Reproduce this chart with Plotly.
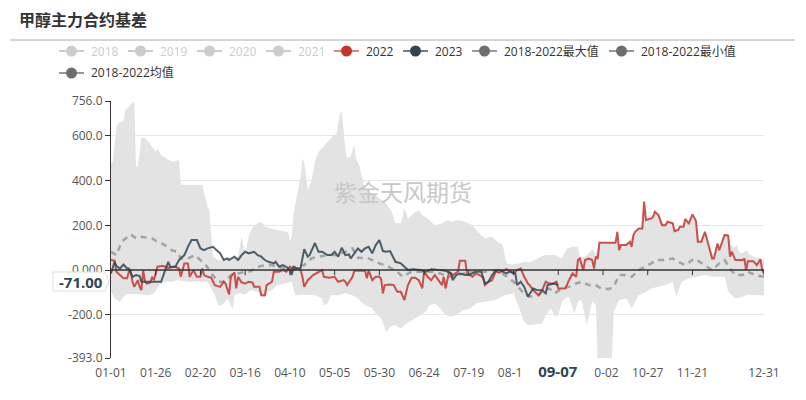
import plotly.graph_objects as go

# ---------------- data (day index 0..365 of a leap-year calendar) ----------------
tick_days = [0, 25, 50, 75, 100, 125, 150, 175, 200, 225, 250, 275, 300, 325, 365]
tick_text = ["01-01", "01-26", "02-20", "03-16", "04-10", "05-05", "05-30", "06-24",
             "07-19", "08-13", "09-07", "10-02", "10-27", "11-21", "12-31"]
y_ticks = [-393, -200, 0, 200, 400, 600, 756]
y_ticktext = ["-393.0", "-200.0", "0.000", "200.0", "400.0", "600.0", "756.0"]

max_day = [0, 1, 3, 4, 7, 8, 10, 12, 13, 14, 15, 17, 19, 21, 23, 25, 26, 28, 30, 32, 35, 38, 39, 51, 53,
           54, 55, 56, 57, 60, 64, 68, 71, 73, 75, 77, 79, 82, 84, 86, 88, 92, 96, 99, 100, 101, 102, 104,
           106, 107, 108, 110, 112, 114, 116, 118, 121, 124, 126, 128, 129, 130, 131, 132, 134, 135, 136,
           137, 139, 141, 144, 148, 150, 153, 157, 159, 162, 164, 166, 169, 172, 174, 177, 181, 185, 188,
           190, 194, 198, 202, 205, 209, 213, 216, 219, 221, 224, 228, 231, 234, 237, 240, 243, 248, 252,
           255, 258, 261, 262, 265, 268, 269, 271, 273, 282, 283, 284, 288, 290, 292, 293, 295, 297, 298,
           299, 302, 303, 304, 306, 308, 310, 311, 314, 315, 317, 318, 320, 321, 323, 325, 327, 329, 330,
           332, 334, 336, 337, 339, 340, 342, 343, 345, 346, 348, 350, 351, 353, 355, 357, 359, 361, 364, 365]
max_val = [475, 485, 640, 657, 665, 716, 730, 750, 756, 462, 465, 589, 592, 574, 552, 529, 544, 514, 507, 492,
           485, 492, 382, 380, 313, 283, 268, 165, 60, 45, 40, 55, 60, 150, 70, 150, 190, 209, 216, 195, 190,
           180, 175, 170, 130, 150, 250, 330, 420, 500, 480, 358, 395, 485, 529, 545, 575, 600, 610, 700, 708,
           634, 537, 500, 507, 537, 559, 500, 462, 388, 350, 335, 320, 306, 261, 209, 209, 276, 231, 253, 268,
           246, 231, 201, 209, 224, 216, 224, 216, 201, 171, 142, 149, 127, 112, 30, 25, 30, 37, 35, 45, 60,
           67, 67, 52, 97, 104, 104, 60, 60, 82, 97, 70, 124, 124, 171, 115, 115, 127, 157, 171, 186, 190,
           306, 224, 231, 238, 261, 246, 215, 205, 216, 209, 180, 180, 194, 194, 228, 209, 249, 219, 130, 127,
           171, 115, 75, 70, 119, 95, 142, 157, 164, 120, 100, 110, 80, 75, 90, 70, 60, 55, 50, 40]

min_day = [0, 2, 5, 7, 9, 13, 17, 21, 24, 27, 30, 34, 37, 43, 47, 51, 54, 56, 58, 60, 62, 63, 65, 67, 68,
           69, 72, 75, 78, 82, 84, 86, 88, 90, 93, 97, 101, 103, 106, 110, 114, 118, 119, 121, 123, 127, 131,
           135, 138, 142, 146, 148, 151, 154, 156, 159, 162, 164, 167, 170, 173, 176, 178, 181, 184, 187, 190,
           193, 197, 201, 204, 209, 215, 220, 225, 229, 231, 233, 237, 241, 243, 246, 248, 250, 252, 254, 256,
           259, 261, 263, 266, 269, 271, 272, 280, 281, 284, 288, 291, 295, 299, 302, 306, 310, 314, 316, 319,
           323, 327, 332, 336, 343, 345, 349, 353, 356, 360, 365]
min_val = [-97, -127, -142, -119, -109, -107, -109, -112, -105, -67, -52, -52, -45, -52, -52, -52, -52, -82,
           -112, -157, -157, -149, -127, -157, -179, -112, -104, -109, -89, -97, -120, -120, -95, -89, -67,
           -60, -52, -112, -109, -109, -112, -127, -157, -150, -112, -112, -104, -112, -127, -157, -171, -194,
           -216, -276, -253, -246, -261, -246, -231, -216, -201, -186, -157, -149, -171, -201, -209, -201,
           -179, -171, -149, -142, -134, -112, -104, -186, -231, -246, -243, -239, -201, -171, -209, -201,
           -142, -127, -119, -194, -142, -134, -246, -142, -157, -393, -393, -186, -134, -127, -171, -112,
           -97, -82, -75, -67, -52, -119, -52, -37, -30, -22, -30, -30, -97, -127, -119, -109, -112, -112]

mean_day = [0, 3, 6, 9, 11, 14, 17, 20, 23, 26, 30, 34, 37, 39, 43, 47, 51, 53, 56, 60, 64, 67, 71, 75, 78,
            82, 86, 90, 93, 97, 101, 105, 108, 112, 116, 121, 127, 135, 138, 144, 150, 155, 160, 163, 168,
            174, 179, 184, 189, 193, 198, 203, 209, 215, 220, 225, 230, 234, 239, 241, 245, 248, 252, 256,
            260, 263, 267, 271, 274, 278, 281, 284, 288, 291, 295, 299, 302, 305, 309, 314, 317, 321, 326,
            329, 332, 336, 340, 343, 346, 349, 353, 356, 360, 365]
mean_val = [82, 67, 127, 149, 160, 142, 149, 145, 142, 127, 112, 89, 82, 52, 52, 67, 37, 22, -15, -52, -52,
            -22, -15, -7, -5, 15, 22, 22, 15, 7, 7, 22, 22, 52, 60, 67, 67, 97, 55, 52, 30, 15, -7, -30, -7,
            -7, -7, -15, -30, -22, -15, -7, -7, 0, -22, -52, -97, -119, -112, -97, -82, -104, -82, -75, -60,
            -52, -67, -67, -82, -85, -75, -22, -22, -30, 0, 15, 30, 45, 45, 52, 37, 22, 52, 37, 22, 0, 30, 45,
            7, -22, -22, -7, -22, -30]

y2022_day = [0, 2, 3, 5, 7, 9, 10, 11, 12, 13, 15, 16, 17, 18, 19, 20, 22, 23, 24, 26, 29, 32, 36, 38, 39,
             41, 43, 44, 46, 48, 50, 51, 52, 54, 56, 58, 61, 63, 64, 66, 67, 69, 70, 71, 73, 75, 77, 79, 80,
             83, 84, 86, 87, 90, 91, 94, 96, 98, 100, 102, 104, 106, 107, 108, 110, 113, 116, 118, 119, 122,
             125, 127, 130, 131, 132, 134, 135, 136, 139, 142, 143, 144, 146, 148, 150, 151, 152, 153, 156,
             158, 160, 162, 164, 166, 168, 170, 172, 174, 175, 177, 179, 181, 183, 185, 186, 187, 189, 191,
             194, 195, 198, 199, 202, 204, 206, 208, 209, 211, 213, 215, 217, 218, 221, 223, 225, 227, 229,
             231, 233, 234, 236, 239, 241, 243, 245, 247, 249, 250, 254, 256, 258, 260, 261, 262, 264, 265,
             267, 269, 270, 271, 272, 273, 282, 283, 284, 285, 288, 290, 291, 292, 293, 295, 297, 298, 299,
             302, 303, 304, 306, 308, 310, 311, 313, 314, 315, 317, 318, 320, 321, 323, 325, 327, 328, 330,
             332, 334, 336, 337, 339, 340, 342, 343, 345, 346, 347, 349, 353, 354, 355, 356, 359, 361, 363,
             364, 365]
y2022_val = [45, 42, -7, -22, -37, -37, -7, -3, -52, -75, -45, -75, -89, 0, -52, -60, -55, -30, -45, 15, 19,
             10, 15, 7, -30, 30, 30, -30, 0, -30, -30, 7, -22, -30, -34, -67, -75, -52, -60, -109, -30, -10,
             -82, -30, -55, -60, -52, -55, -75, -75, -112, -112, -67, -52, -7, -7, 0, -7, 15, 0, 7, 0, -30,
             -75, -45, -22, -7, 0, -30, -34, -30, -52, -45, -52, -67, -45, -30, -3, -3, -3, -37, 0, -45, -30,
             -30, -40, -104, -67, -64, -67, -97, -97, -134, -67, -34, -34, -45, -82, -7, -30, -45, -22, -45,
             -67, -30, -82, -7, -22, -7, 42, 42, -15, -30, -15, -22, -34, -67, -52, -45, -7, -12, -7, 4, -7,
             -15, 0, 7, -30, -60, -67, -90, -112, -90, -52, -60, -60, -52, -82, -82, -45, -15, -30, 45, 52, 0,
             45, 52, 45, 7, 60, 50, 122, 122, 171, 89, 112, 112, 127, 104, 157, 171, 186, 186, 306, 224, 231,
             238, 261, 246, 201, 201, 216, 209, 209, 174, 180, 194, 194, 228, 209, 249, 219, 127, 127, 171,
             112, 52, 52, 119, 89, 142, 157, 154, 60, 82, 45, 45, 52, 0, 40, 40, 22, 48, 0, -15]

y2023_day = [0, 2, 3, 5, 7, 9, 10, 12, 14, 16, 17, 28, 30, 32, 33, 36, 38, 41, 43, 45, 48, 50, 52, 54, 57,
             59, 61, 63, 65, 66, 69, 71, 73, 75, 77, 80, 82, 84, 86, 88, 91, 92, 94, 96, 98, 100, 101, 102,
             104, 106, 108, 110, 111, 114, 116, 118, 121, 123, 125, 127, 129, 131, 133, 134, 136, 138, 140,
             142, 144, 146, 148, 150, 152, 154, 156, 159, 162, 164, 166, 169, 173, 176, 179, 183, 187, 190,
             191, 193, 195, 198, 200, 202, 204, 207, 209, 211, 213, 215, 217, 219, 221, 223, 226, 227, 229,
             231, 233, 236, 238, 241, 243, 244, 246, 248, 250]
y2023_val = [-15, 37, 19, 7, 25, 7, 7, -30, -22, -27, -52, -52, -7, 37, 15, 15, 45, 67, 104, 134, 134, 97,
             89, 97, 104, 89, 75, 45, 52, 45, 60, 45, 67, 82, 75, 82, 67, 60, 45, 37, 30, 37, 15, 22, 15, 0,
             -22, 15, 7, 10, 94, 60, 67, 121, 82, 82, 67, 67, 82, 60, 100, 67, 70, 52, 75, 97, 82, 97, 104, 75,
             112, 134, 85, 82, 85, 37, 30, 15, 0, 4, 0, -7, 4, 1, -3, -15, -45, -22, -15, -22, -22, -15, -7,
             -7, -60, -52, -22, -4, 0, -7, -15, -7, -15, -67, -52, -75, -119, -82, -89, -90, -104, -67, -64,
             -60, -67]

legend_names = ["2018", "2019", "2020", "2021", "2022", "2023", "2018-2022最大值", "2018-2022最小值",
                "2018-2022均值"]
legend_on = [False, False, False, False, True, True, True, True, True]

# ---------------- styling ----------------
FONT = "Open Sans, Noto Sans CJK SC, sans-serif"
CJK = "Noto Sans CJK SC, sans-serif"
RED = "#c23531"
NAVY = "#2f4554"
GREY = "#6e6e6e"
legend_dot = ["#ccc", "#ccc", "#ccc", "#ccc", RED, NAVY, GREY, GREY, GREY]
legend_line = ["#ccc", "#ccc", "#ccc", "#ccc", "rgba(194,53,49,0.6)", "rgba(47,69,84,0.7)",
               "rgba(110,110,110,0.7)", "rgba(110,110,110,0.7)", "rgba(110,110,110,0.7)"]
legend_px = [59, 128, 197, 266, 334, 403, 472, 609, 59]
legend_py = [51, 51, 51, 51, 51, 51, 51, 51, 73]

L, R, T, B = 111, 764, 101, 358
W, H = R - L, B - T


def px(x):
    return (x - L) / W


def py(y):
    return (B - y) / H


fig = go.Figure()

# band between max and min
fig.add_trace(go.Scatter(
    x=max_day + min_day[::-1], y=max_val + min_val[::-1],
    fill="toself", fillcolor="#e3e3e3", mode="lines", line=dict(width=0),
    hoverinfo="skip", showlegend=False))
fig.add_trace(go.Scatter(x=mean_day, y=mean_val, mode="lines",
                         line=dict(color="#a3a3a3", width=2.5, dash="6px,5px"), showlegend=False))
fig.add_trace(go.Scatter(x=y2022_day, y=y2022_val, mode="lines",
                         line=dict(color="rgba(194,53,49,0.85)", width=2), showlegend=False))
fig.add_trace(go.Scatter(x=y2023_day, y=y2023_val, mode="lines",
                         line=dict(color="rgba(47,69,84,0.85)", width=2), showlegend=False))

shapes = []
annotations = []

# zero axis line + ticks
shapes.append(dict(type="line", xref="x", yref="y", x0=0, x1=365, y0=0, y1=0,
                   line=dict(color="#333", width=1.5), layer="above"))
for d in tick_days:
    if d == 0:
        continue
    shapes.append(dict(type="line", xref="x", yref="y", ysizemode="pixel", yanchor=0,
                       x0=d, x1=d, y0=0, y1=-5, line=dict(color="#333", width=1), layer="above"))

# title rule
shapes.append(dict(type="line", xref="paper", yref="paper", x0=px(10), x1=px(795), y0=py(40), y1=py(40),
                   line=dict(color="#aaa", width=1)))

# custom legend
for name, on, dc, lc, lx, ly in zip(legend_names, legend_on, legend_dot, legend_line, legend_px, legend_py):
    shapes.append(dict(type="line", xref="paper", yref="paper", x0=px(lx), x1=px(lx + 25),
                       y0=py(ly), y1=py(ly), line=dict(color=lc, width=2)))
    shapes.append(dict(type="circle", xref="paper", yref="paper", xsizemode="pixel", ysizemode="pixel",
                       xanchor=px(lx + 12.5), yanchor=py(ly), x0=-5.5, x1=5.5, y0=-5.5, y1=5.5,
                       fillcolor=dc, line=dict(width=0)))
    annotations.append(dict(xref="paper", yref="paper", x=px(lx + 30), y=py(ly), xanchor="left",
                            yanchor="middle", text=name, showarrow=False,
                            font=dict(family=FONT, size=12, color="#333" if on else "#ccc")))

# watermark
annotations.append(dict(xref="paper", yref="paper", x=px(403), y=py(191), xanchor="center",
                        yanchor="middle", text="紫金天风期货",
                        showarrow=False, font=dict(family=CJK, size=23, color="#c8c8c8")))

# axis-pointer labels
shapes.append(dict(type="path", xref="paper", yref="paper", layer="above",
                   path="M {a},{b} L {c},{b} L {d},{e} L {c},{f} L {a},{f} Z".format(
                       a=px(53), b=py(272), c=px(105), d=px(109), e=py(281.5), f=py(291)),
                   fillcolor="white", line=dict(color="#ddd", width=1)))
annotations.append(dict(xref="paper", yref="paper", x=px(81), y=py(281.5), xanchor="center",
                        yanchor="middle", text="<b>-71.00</b>",
                        showarrow=False, font=dict(family=FONT, size=15, color=NAVY)))
annotations.append(dict(xref="x", yref="paper", x=250, y=py(371), xanchor="center", yanchor="middle",
                        text="<b>09-07</b>", showarrow=False,
                        width=70, height=16, bgcolor="white", borderpad=0,
                        font=dict(family=FONT, size=15, color=NAVY)))

fig.update_layout(
    width=806, height=400,
    margin=dict(l=L, r=806 - R, t=T, b=400 - B, pad=0),
    paper_bgcolor="white", plot_bgcolor="white",
    title=dict(text="<b>甲醇主力合约基差</b>", xref="container", yref="container",
               x=19 / 806, y=1 - 20 / 400, xanchor="left", yanchor="middle",
               font=dict(family=CJK, size=16, color="#333")),
    xaxis=dict(range=[0, 365], tickmode="array", tickvals=tick_days, ticktext=tick_text,
               showgrid=False, zeroline=False, showline=False, ticks="outside", ticklen=4,
               tickcolor="rgba(0,0,0,0)", tickfont=dict(family=FONT, size=12, color="#555")),
    yaxis=dict(range=[-393, 756], tickmode="array", tickvals=y_ticks, ticktext=y_ticktext,
               showgrid=True, gridcolor="#e6e6e6", gridwidth=1, zeroline=False,
               showline=True, linecolor="#333", linewidth=1.2, ticks="outside", ticklen=5,
               tickcolor="#333", tickfont=dict(family=FONT, size=12, color="#555")),
    shapes=shapes, annotations=annotations, showlegend=False,
)

fig.write_html("out.html")
